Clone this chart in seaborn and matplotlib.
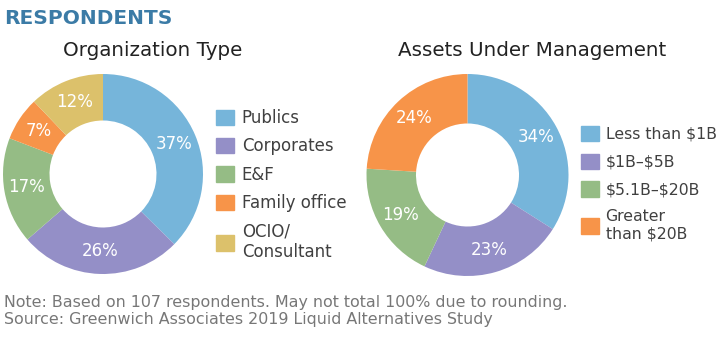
import matplotlib
matplotlib.use("Agg")
import matplotlib.pyplot as plt
import seaborn as sns
from matplotlib.patches import Patch

sns.set_theme(style="white")
plt.rcParams['font.family'] = ['DejaVu Sans']

org_labels = ["Publics", "Corporates", "E&F", "Family office", "OCIO/\nConsultant"]
org_values = [37, 26, 17, 7, 12]
aum_labels = ["Less than \\$1B", "\\$1B–\\$5B", "\\$5.1B–\\$20B", "Greater\nthan \\$20B"]
aum_values = [34, 23, 19, 24]
colors = ["#76b5da", "#948fc7", "#95bc85", "#f79449", "#dcc16b"]

fig = plt.figure(figsize=(7.2, 3.38), dpi=100)
W, H = 720, 338

def donut(values, labels, cx, cy, r, width, title, tx, ty, lx, ly, lfs, pad, spacing):
    ax = fig.add_axes([(cx - r) / W, (H - cy - r) / H, 2 * r / W, 2 * r / H])
    total = sum(values)
    ax.pie(values, colors=colors[:len(values)], startangle=90, counterclock=False,
           radius=1, wedgeprops=dict(width=width, edgecolor="white", linewidth=0),
           autopct=lambda p: f"{round(p * total / 100)}%", pctdistance=0.775,
           textprops=dict(color="white", fontsize=12))
    ax.set_xlim(-1, 1); ax.set_ylim(-1, 1)
    ax.set_aspect("equal"); ax.axis("off")
    fig.text(tx / W, 1 - ty / H, title, ha="center", va="center", fontsize=14.3, color="#222222")
    handles = [Patch(facecolor=colors[i], edgecolor=colors[i]) for i in range(len(values))]
    fig.legend(handles, labels, loc="upper left", bbox_to_anchor=(lx / W, 1 - ly / H),
               frameon=False, fontsize=lfs, handlelength=1.05 * 12 / lfs,
               handleheight=1.05 * 12 / lfs, handletextpad=pad, labelspacing=spacing,
               borderpad=0, borderaxespad=0, labelcolor="#404040")

donut(org_values, org_labels, 103, 174, 100, 0.465, "Organization Type", 153, 50,
      216, 109, 12, 0.5, 0.62)
donut(aum_values, aum_labels, 467.5, 175, 101, 0.49, "Assets Under Management", 532, 50,
      581, 126, 11.3, 0.45, 0.75)

fig.text(4 / W, 1 - 19 / H, "RESPONDENTS", ha="left", va="center", fontsize=14.5,
         fontweight="semibold", color="#3b7ba6")
fig.text(4 / W, 1 - 311 / H, "Note: Based on 107 respondents. May not total 100% due to rounding.\n"
         "Source: Greenwich Associates 2019 Liquid Alternatives Study",
         ha="left", va="center", fontsize=11.4, color="#777777", linespacing=1.15)

fig.savefig("out.png", dpi=100)
